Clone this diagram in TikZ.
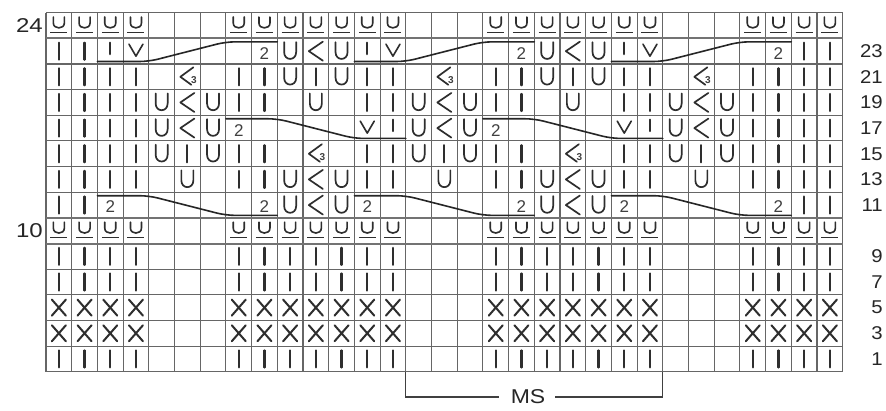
\documentclass[tikz,border=0pt]{standalone}
\usepackage{fontspec}
\setmainfont{Liberation Sans}
\newcommand\knI{\draw[stitch] (0,-8.5) -- (0,8.5);}
\newcommand\kni{\draw[stitch] (0,-8.5) -- (0,3);}
\newcommand\knV{\draw[stitch,line width=1.6pt] (-7,-7) -- (0,5) -- (7,-7);}
\newcommand\knU{\draw[stitch,line width=1.7pt] (-6,-9) -- (-6,1) .. controls (-6,10) and (6,10) .. (6,1) -- (6,-9);}
\newcommand\knu{\draw[stitch,line width=1.6pt] (-5.5,-8.5) -- (-5.5,-2.5) .. controls (-5.5,4) and (5.5,4) .. (5.5,-2.5) -- (5.5,-8.5);
  \draw[stitch,line width=1.4pt,line cap=butt] (-8.5,7) -- (8.5,7);}
\newcommand\knL{\draw[stitch,line width=1.7pt] (7,-9.5) -- (-7,0) -- (7,9.5);}
\newcommand\knK{\draw[stitch,line width=1.7pt] (6,-9.5) -- (-7,0) -- (4,8);
  \node[name=k\c-\r, font=\fontsize{10}{10}\selectfont\bfseries, text=black!75, inner sep=0pt] at (6.5,3) {3};}
\newcommand\knT{\node[name=t\c-\r, font=\fontsize{17}{17}\selectfont, text=black!75, inner sep=0pt] at (0,2) {2};}
\newcommand\knX{\draw[stitch,line width=2pt] (-7,-8) -- (7,8) (-7,8) -- (7,-8);}
\newcommand\kno{}
\begin{document}
\begin{tikzpicture}[x=1pt,y=-1pt,
  gridline/.style={line width=1.1pt, draw=black!60},
  thickgrid/.style={line width=2pt, draw=black!55},
  stitch/.style={line width=2.2pt, draw=black!82, line cap=round, line join=round},
  cable/.style={line width=1.6pt, draw=black!85, line cap=round, line join=round, rounded corners=9pt},
  bracket/.style={line width=1.2pt, draw=black!75},
  rlbl/.style={font=\fontsize{18.5}{18.5}\selectfont, text=black!85, inner sep=0pt, anchor=east},
  llbl/.style={font=\fontsize{20}{20}\selectfont, text=black!85, inner sep=0pt, anchor=east},
]
\useasboundingbox (0,0) rectangle (886,410);
\fill[white] (0,0) rectangle (886,410);
\def\cw{25.7}\def\ch{25.645}\def\ox{46}\def\oy{12.7}
% grid
\foreach \c in {0,...,31} \draw[gridline] ({\ox+\c*\cw},\oy) -- ({\ox+\c*\cw},{\oy+14*\ch});
\foreach \r in {0,...,14} \draw[gridline] (\ox,{\oy+\r*\ch}) -- ({\ox+31*\cw},{\oy+\r*\ch});
\foreach \r in {1,8,9} \draw[thickgrid] (\ox,{\oy+\r*\ch}) -- ({\ox+31*\cw},{\oy+\r*\ch});
% stitches
\foreach \row [count=\r from 0] in {
 {u,u,u,u,o,o,o,u,u,u,u,u,u,u,o,o,o,u,u,u,u,u,u,u,o,o,o,u,u,u,u},
 {I,I,i,V,o,o,o,o,T,U,L,U,i,V,o,o,o,o,T,U,L,U,i,V,o,o,o,o,T,I,I},
 {I,I,I,I,o,K,o,I,I,U,I,U,I,I,o,K,o,I,I,U,I,U,I,I,o,K,o,I,I,I,I},
 {I,I,I,I,U,L,U,I,I,o,U,o,I,I,U,L,U,I,I,o,U,o,I,I,U,L,U,I,I,I,I},
 {I,I,I,I,U,L,U,T,o,o,o,o,V,i,U,L,U,T,o,o,o,o,V,i,U,L,U,I,I,I,I},
 {I,I,I,I,U,I,U,I,I,o,K,o,I,I,U,I,U,I,I,o,K,o,I,I,U,I,U,I,I,I,I},
 {I,I,I,I,o,U,o,I,I,U,L,U,I,I,o,U,o,I,I,U,L,U,I,I,o,U,o,I,I,I,I},
 {I,I,T,o,o,o,o,o,T,U,L,U,T,o,o,o,o,o,T,U,L,U,T,o,o,o,o,o,T,I,I},
 {u,u,u,u,o,o,o,u,u,u,u,u,u,u,o,o,o,u,u,u,u,u,u,u,o,o,o,u,u,u,u},
 {I,I,I,I,o,o,o,I,I,I,I,I,I,I,o,o,o,I,I,I,I,I,I,I,o,o,o,I,I,I,I},
 {I,I,I,I,o,o,o,I,I,I,I,I,I,I,o,o,o,I,I,I,I,I,I,I,o,o,o,I,I,I,I},
 {X,X,X,X,o,o,o,X,X,X,X,X,X,X,o,o,o,X,X,X,X,X,X,X,o,o,o,X,X,X,X},
 {X,X,X,X,o,o,o,X,X,X,X,X,X,X,o,o,o,X,X,X,X,X,X,X,o,o,o,X,X,X,X},
 {I,I,I,I,o,o,o,I,I,I,I,I,I,I,o,o,o,I,I,I,I,I,I,I,o,o,o,I,I,I,I}} {
  \foreach \s [count=\c] in \row {
    \begin{scope}[shift={({\ox+(\c-0.5)*\cw},{\oy+(\r+0.5)*\ch})}]
      \csname kn\s\endcsname
    \end{scope}
  }
}
% cables
\pgfmathsetmacro\ytA{\oy+1*\ch+3.5}\pgfmathsetmacro\ybA{\oy+2*\ch-2.5}
\foreach \s in {3,13,23}
  \draw[cable] ({\ox+(\s-1)*\cw},\ybA) -- ({\ox+(\s+1)*\cw},\ybA) -- ({\ox+(\s+4)*\cw},\ytA) -- ({\ox+(\s+6)*\cw},\ytA);
\pgfmathsetmacro\ytB{\oy+4*\ch+3.5}\pgfmathsetmacro\ybB{\oy+5*\ch-2.5}
\foreach \s in {8,18}
  \draw[cable] ({\ox+(\s-1)*\cw},\ytB) -- ({\ox+(\s+1)*\cw},\ytB) -- ({\ox+(\s+4)*\cw},\ybB) -- ({\ox+(\s+6)*\cw},\ybB);
\pgfmathsetmacro\ytC{\oy+7*\ch+3.5}\pgfmathsetmacro\ybC{\oy+8*\ch-2.5}
\foreach \s in {3,13,23}
  \draw[cable] ({\ox+(\s-1)*\cw},\ytC) -- ({\ox+(\s+1)*\cw},\ytC) -- ({\ox+(\s+4)*\cw},\ybC) -- ({\ox+(\s+6)*\cw},\ybC);
% row labels
\node[llbl] (l24) at (43,{\oy+0.5*\ch}) {\scalebox{1.2}[1]{24}};
\node[llbl] (l10) at (43,{\oy+8.5*\ch}) {\scalebox{1.2}[1]{10}};
\foreach \n/\r in {23/1,21/2,19/3,17/4,15/5,13/6,11/7,9/9,7/10,5/11,3/12,1/13}
  \node[rlbl] (r\n) at (883,{\oy+(\r+0.5)*\ch}) {\scalebox{1.1}[1]{\n}};
% MS bracket
\node[font=\fontsize{20}{20}\selectfont, text=black!85, inner sep=0pt] (ms) at (528,397) {\scalebox{1.15}[1]{MS}};
\coordinate (msa) at ({\ox+14*\cw},{\oy+14*\ch});
\coordinate (msb) at ({\ox+24*\cw},{\oy+14*\ch});
\draw[bracket] (msa) |- ([xshift=-12pt]ms.west);
\draw[bracket] (msb) |- ([xshift=10pt]ms.east);
\end{tikzpicture}
\end{document}
